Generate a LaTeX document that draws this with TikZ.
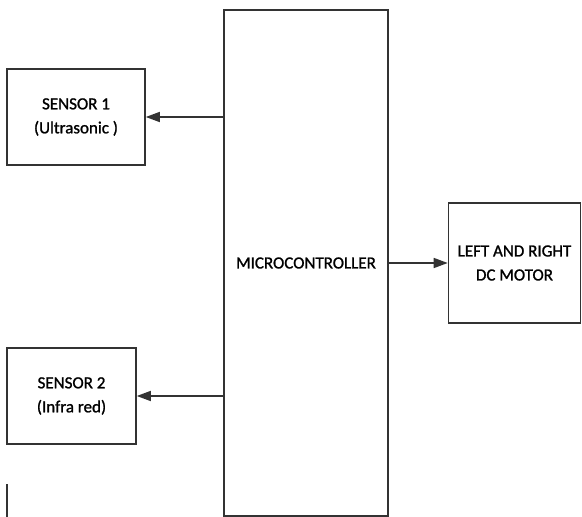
\documentclass[tikz,border=0pt]{standalone}
\usepackage{fontspec}
\setmainfont{Carlito}
\newfontfamily\blkfont[FakeBold=1.2]{Carlito}
\usetikzlibrary{arrows.meta}
\tikzset{blk/.style={draw=black!80,line width=1.6pt,align=center,font=\blkfont\fontsize{17}{24}\selectfont,inner sep=0pt},
  arr/.style={-{Triangle[length=14pt,width=10pt]},draw=black!80,line width=1.6pt}}
\begin{document}
\begin{tikzpicture}[x=1pt,y=-1pt]
  \useasboundingbox (0,0) rectangle (582,517);
  \node[blk,minimum width=164pt,minimum height=506pt] (mc) at (306,263) {MICROCONTROLLER};
  \node[blk,minimum width=138pt,minimum height=96pt] (s1) at (76,117) {SENSOR 1\\(Ultrasonic )};
  \node[blk,minimum width=129pt,minimum height=96pt] (s2) at (71.5,396) {SENSOR 2\\(Infra red)};
  \node[blk,minimum width=132pt,minimum height=120pt] (motor) at (514.5,263) {LEFT AND RIGHT\\DC MOTOR};
  \draw[arr] (s1.east -| mc.west) -- (s1.east);
  \draw[arr] (s2.east -| mc.west) -- (s2.east);
  \draw[arr] (mc.east |- motor.west) -- (motor.west);
  \draw[black!80,line width=1.6pt] (7,484) -- (7,517);
\end{tikzpicture}
\end{document}
